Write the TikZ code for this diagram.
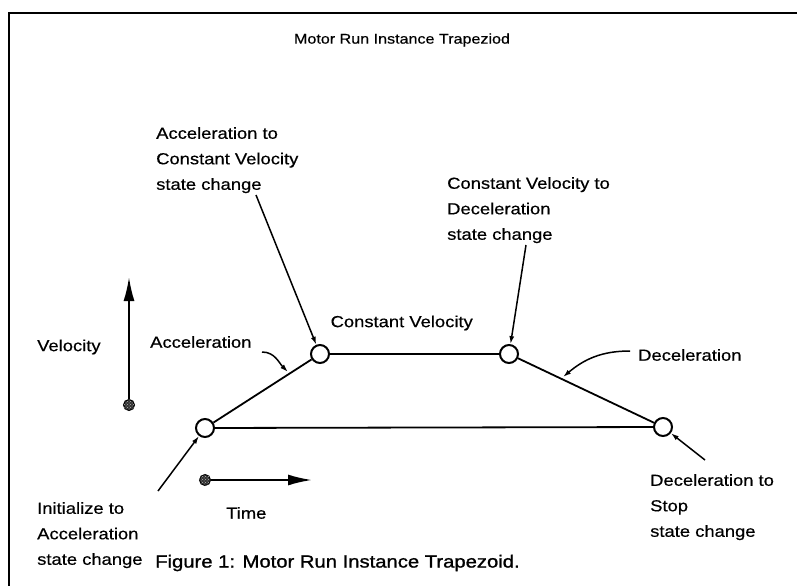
\documentclass[tikz,border=0pt]{standalone}
\usepackage{fontspec}
\setmainfont[FakeStretch=1.15,FakeBold=0.5]{Liberation Sans}
\newfontfamily\capfont[FakeStretch=1.15,FakeBold=1.2]{Liberation Sans}
\usetikzlibrary{arrows.meta,patterns}
\begin{document}
\begin{tikzpicture}[x=1pt,y=-1pt,
  lbl/.style={inner sep=0pt,font=\fontsize{16}{25.5}\selectfont,align=left},
  state/.style={circle,draw,line width=2pt,minimum size=18pt,inner sep=0pt,fill=white},
  dotnode/.style={circle,draw,line width=1pt,fill=black!80,minimum size=11pt,inner sep=0pt,
    postaction={pattern=crosshatch dots,pattern color=white!70!black}},
  edge/.style={line width=1.8pt},
  pointer/.style={line width=1.5pt,-{Latex[length=8pt,width=5pt]}},
  axis/.style={line width=2pt,-{Latex[length=24pt,width=11pt]}},
  frame/.style={line width=2.4pt}]
  \useasboundingbox (0,0) rectangle (797,586);

  % open frame: top and left sides only
  \coordinate (fTL) at (9,13);
  \coordinate (fTR) at (797,13);
  \coordinate (fBL) at (9,586);
  \draw[frame] (fTR) -- (fTL) -- (fBL);

  \node[lbl,font=\fontsize{14}{18}\selectfont] (title) at (402,40) {Motor Run Instance Trapeziod};

  % trapezoid corners
  \node[state] (c1) at (205,428) {};
  \node[state] (c2) at (320,354) {};
  \node[state] (c3) at (509,354) {};
  \node[state] (c4) at (663,427) {};
  \draw[edge] (c1) -- (c2) (c2) -- (c3) (c3) -- (c4) (c1) -- (c4);

  % axes
  \node[dotnode] (vdot) at (129,405) {};
  \coordinate (vtip) at (129,277);
  \draw[axis] (vdot) -- (vtip);
  \node[dotnode] (tdot) at (205,480) {};
  \coordinate (ttip) at (312,480);
  \draw[axis] (tdot) -- (ttip);
  \node[lbl,anchor=west] (vel) at (37,347) {Velocity};
  \node[lbl,anchor=west] (time) at (226,513) {Time};

  % segment labels
  \node[lbl,anchor=west] (acc) at (150,342) {Acceleration};
  \node[lbl,anchor=east] (cv) at (473,323) {Constant Velocity};
  \node[lbl,anchor=west] (dec) at (638,355) {Deceleration};
  \coordinate (accs) at (262,352);
  \coordinate (acct) at (288,372);
  \draw[pointer] (accs) to[out=0,in=135] (acct);
  \coordinate (decs) at (630,351);
  \coordinate (dect) at (563,377);
  \draw[pointer] (decs) to[out=180,in=40] (dect);

  % state change labels
  \node[lbl,anchor=north west] (s2) at (156,127) {Acceleration to\\Constant Velocity\\state change};
  \node[lbl,anchor=north west] (s3) at (447,177) {Constant Velocity to\\Deceleration\\state change};
  \node[lbl,anchor=north west] (s1) at (37,502) {Initialize to\\Acceleration\\state change};
  \node[lbl,anchor=north west] (s4) at (650,474) {Deceleration to\\Stop\\state change};

  \coordinate (p2) at (256,195);
  \draw[pointer] (p2) -- (c2);
  \coordinate (p3) at (526,245);
  \draw[pointer] (p3) -- (c3);
  \coordinate (p1) at (158,491);
  \draw[pointer] (p1) -- (c1);
  \coordinate (p4) at (705,460);
  \draw[pointer] (p4) -- (c4);

  \node[lbl,anchor=west,font=\capfont\fontsize{17.6}{22}\selectfont] (cap) at (155,563) {Figure 1: Motor Run Instance Trapezoid.};
\end{tikzpicture}
\end{document}
